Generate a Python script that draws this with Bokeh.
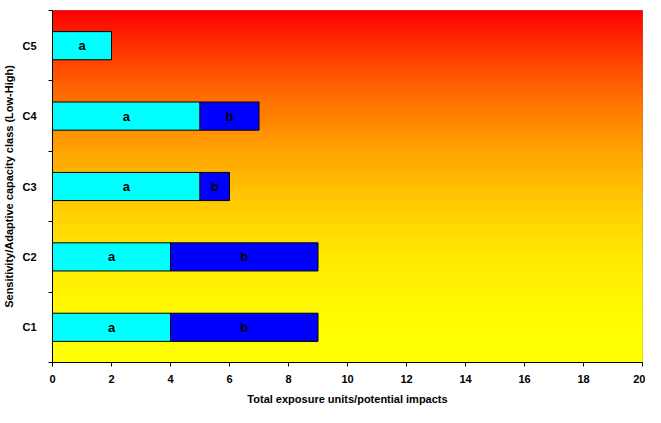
import numpy as np
from bokeh.plotting import figure
from bokeh.models import FixedTicker, ColumnDataSource, Range1d
from bokeh.core.properties import value
from bokeh.embed import file_html
from bokeh.resources import INLINE

classes = ["C1", "C2", "C3", "C4", "C5"]
a_vals = [4, 4, 5, 5, 2]
b_vals = [5, 5, 1, 2, 0]
x_ticks = [0, 2, 4, 6, 8, 10, 12, 14, 16, 18, 20]

FONT = "Liberation Sans"

p = figure(width=645, height=407, output_backend="svg", toolbar_location=None,
           x_range=Range1d(0, 20), y_range=Range1d(0, 5),
           min_border_left=44, min_border_right=3, min_border_top=10, min_border_bottom=38)
p.background_fill_color = "white"
p.border_fill_color = "white"
p.outline_line_color = "#808080"
p.outline_line_width = 1
p.grid.visible = False

# background gradient (red at top -> yellow at bottom)
n = 240
edges = np.linspace(0, 5, n + 1)
bottoms = edges[:-1]
tops = edges[1:]
t = 1 - (bottoms + tops) / 2 / 5  # 0 at top, 1 at bottom
g = (255 * (1 - (1 - t) ** 2)).astype(int)
cols = ["#%02x%02x%02x" % (255, gi, 0) for gi in g]
p.quad(left=0, right=20, bottom=bottoms, top=tops, fill_color=cols, line_color=cols, line_width=1)

ys = [i + 0.5 for i in range(len(classes))]
a_arr = np.array(a_vals, dtype=float)
b_arr = np.array(b_vals, dtype=float)
src = ColumnDataSource(dict(y=ys, a=a_arr, ab=a_arr + b_arr, zero=np.zeros(len(ys))))
p.hbar(y="y", left="zero", right="a", height=0.4, source=src, fill_color="#00FFFF", line_color="black", line_width=1)

bmask = b_arr > 0
srcb = ColumnDataSource(dict(y=np.array(ys)[bmask], a=a_arr[bmask], ab=(a_arr + b_arr)[bmask]))
p.hbar(y="y", left="a", right="ab", height=0.4, source=srcb, fill_color="#0000FF", line_color="black", line_width=1)

# segment labels
la = ColumnDataSource(dict(x=a_arr / 2, y=ys, t=["a"] * len(ys)))
p.text(x="x", y="y", text="t", source=la, text_align="center", text_baseline="middle",
       text_font=value(FONT), text_font_style="bold", text_font_size="13px", text_color="black")
lb = ColumnDataSource(dict(x=(a_arr + (a_arr + b_arr))[bmask] / 2, y=np.array(ys)[bmask], t=["b"] * int(bmask.sum())))
p.text(x="x", y="y", text="t", source=lb, text_align="center", text_baseline="middle",
       text_font=value(FONT), text_font_style="bold", text_font_size="13px", text_color="black")

# x axis
p.xaxis.ticker = FixedTicker(ticks=x_ticks)
p.xaxis.axis_label = "Total exposure units/potential impacts"
p.xaxis.minor_tick_line_color = None
p.xaxis.major_tick_in = 0
p.xaxis.major_tick_out = 4

# y axis
p.yaxis.ticker = FixedTicker(ticks=ys, minor_ticks=[0, 1, 2, 3, 4, 5])
p.yaxis.major_label_overrides = {y: c for y, c in zip(ys, classes)}
p.yaxis.major_tick_in = 0
p.yaxis.major_tick_out = 0
p.yaxis.minor_tick_in = 0
p.yaxis.minor_tick_out = 4
p.yaxis.minor_tick_line_color = "black"
p.yaxis.axis_label = "Sensitivity/Adaptive capacity class (Low-High)"

for ax in (p.xaxis[0], p.yaxis[0]):
    ax.axis_line_color = "black"
    ax.major_tick_line_color = "black"
    ax.major_label_text_font = FONT
    ax.major_label_text_font_style = "bold"
    ax.major_label_text_font_size = "11px"
    ax.major_label_text_color = "black"
    ax.axis_label_text_font = FONT
    ax.axis_label_text_font_style = "bold"
    ax.axis_label_text_font_size = "11px"
    ax.axis_label_text_color = "black"
p.xaxis.major_label_standoff = 8
p.xaxis.axis_label_standoff = 7
p.yaxis.major_label_standoff = 12
p.yaxis.axis_label_standoff = 4

open("out.html", "w").write(file_html(p, INLINE))
